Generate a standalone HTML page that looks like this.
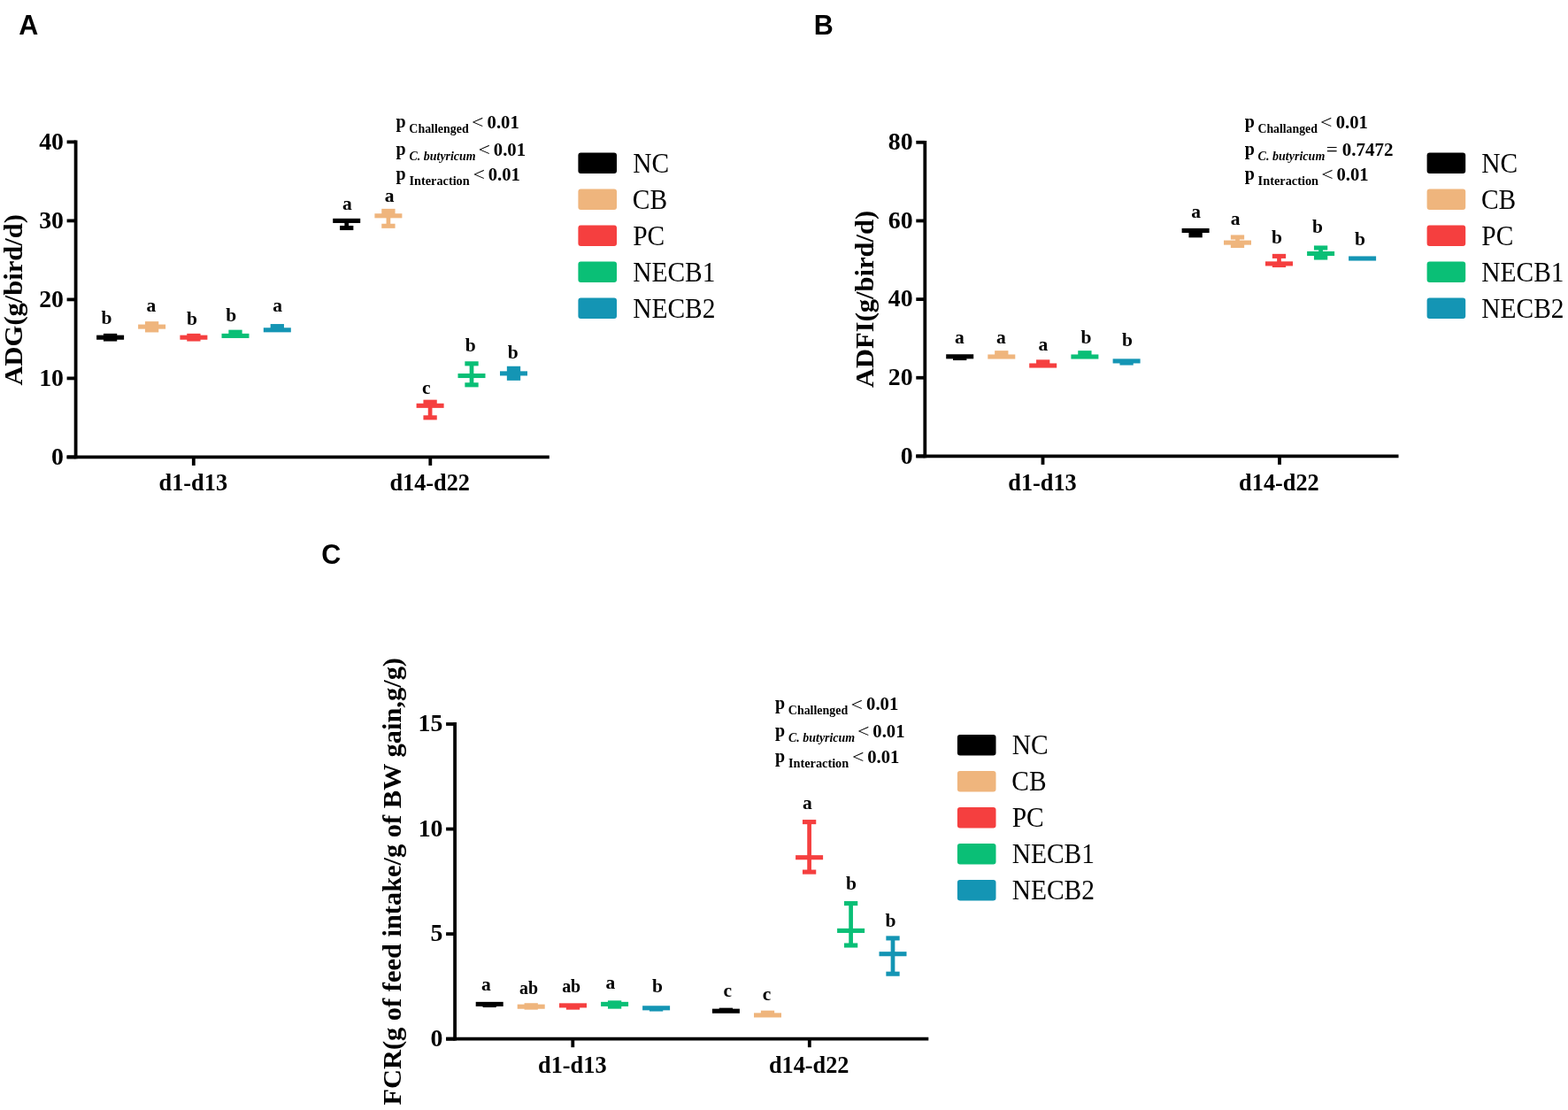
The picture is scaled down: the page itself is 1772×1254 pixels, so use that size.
<!DOCTYPE html>
<html><head><meta charset="utf-8"><title>Figure</title>
<style>html,body{margin:0;padding:0;background:#fff;overflow:hidden;} svg{display:block;}</style>
</head><body>
<svg width="1772" height="1254" viewBox="0 0 1772 1254">
<rect width="1772" height="1254" fill="#fff"/>
<text x="21.14" y="38.8" style="font-family:'Liberation Sans', Arial, sans-serif;font-size:30.5px;font-weight:bold;font-style:normal" fill="#000">A</text>
<text x="919.86" y="38.8" style="font-family:'Liberation Sans', Arial, sans-serif;font-size:30.5px;font-weight:bold;font-style:normal" fill="#000">B</text>
<text x="363.15" y="637.29" style="font-family:'Liberation Sans', Arial, sans-serif;font-size:30.5px;font-weight:bold;font-style:normal" fill="#000">C</text>
<line x1="85.6" y1="158.5" x2="85.6" y2="518.3" stroke="#000" stroke-width="3.8" stroke-linecap="butt"/>
<line x1="75.6" y1="516.4" x2="620.8" y2="516.4" stroke="#000" stroke-width="3.8" stroke-linecap="butt"/>
<line x1="75.6" y1="516.4" x2="85.6" y2="516.4" stroke="#000" stroke-width="3.8" stroke-linecap="butt"/>
<line x1="75.6" y1="427.4" x2="85.6" y2="427.4" stroke="#000" stroke-width="3.8" stroke-linecap="butt"/>
<line x1="75.6" y1="338.4" x2="85.6" y2="338.4" stroke="#000" stroke-width="3.8" stroke-linecap="butt"/>
<line x1="75.6" y1="249.4" x2="85.6" y2="249.4" stroke="#000" stroke-width="3.8" stroke-linecap="butt"/>
<line x1="75.6" y1="160.4" x2="85.6" y2="160.4" stroke="#000" stroke-width="3.8" stroke-linecap="butt"/>
<line x1="218.8" y1="516.4" x2="218.8" y2="525.9" stroke="#000" stroke-width="3.8" stroke-linecap="butt"/>
<line x1="486.3" y1="516.4" x2="486.3" y2="525.9" stroke="#000" stroke-width="3.8" stroke-linecap="butt"/>
<text transform="translate(58.04 524.78) scale(1.0500 1)" style="font-family:'Liberation Serif', 'Times New Roman', serif;font-size:26.5px;font-weight:bold;font-style:normal" fill="#000">0</text>
<text transform="translate(44.13 435.78) scale(1.0500 1)" style="font-family:'Liberation Serif', 'Times New Roman', serif;font-size:26.5px;font-weight:bold;font-style:normal" fill="#000">10</text>
<text transform="translate(44.13 346.78) scale(1.0500 1)" style="font-family:'Liberation Serif', 'Times New Roman', serif;font-size:26.5px;font-weight:bold;font-style:normal" fill="#000">20</text>
<text transform="translate(44.13 257.78) scale(1.0500 1)" style="font-family:'Liberation Serif', 'Times New Roman', serif;font-size:26.5px;font-weight:bold;font-style:normal" fill="#000">30</text>
<text transform="translate(44.13 168.78) scale(1.0500 1)" style="font-family:'Liberation Serif', 'Times New Roman', serif;font-size:26.5px;font-weight:bold;font-style:normal" fill="#000">40</text>
<text x="179.58" y="554" style="font-family:'Liberation Serif', 'Times New Roman', serif;font-size:26.3px;font-weight:bold;font-style:normal" fill="#000">d1-d13</text>
<text x="440.42" y="554" style="font-family:'Liberation Serif', 'Times New Roman', serif;font-size:26.3px;font-weight:bold;font-style:normal" fill="#000">d14-d22</text>
<text transform="translate(24.7 435.51) rotate(-90) scale(1.0191 1)" style="font-family:'Liberation Serif', 'Times New Roman', serif;font-size:30px;font-weight:bold">ADG(g/bird/d)</text>
<rect x="122.25" y="379.4" width="4.7" height="3.6" fill="#000000"/>
<rect x="116.95" y="376.85" width="15.3" height="5.1" fill="#000000"/>
<rect x="116.95" y="380.45" width="15.3" height="5.1" fill="#000000"/>
<rect x="109.1" y="378.65" width="31" height="5.1" fill="#000000"/>
<rect x="169.25" y="365.7" width="4.7" height="7.2" fill="#EFB57D"/>
<rect x="163.95" y="363.15" width="15.3" height="5.95" fill="#EFB57D"/>
<rect x="163.95" y="369.1" width="15.3" height="6.35" fill="#EFB57D"/>
<rect x="156.1" y="366.55" width="31" height="5.1" fill="#EFB57D"/>
<rect x="216.55" y="379.4" width="4.7" height="3.6" fill="#F53F3F"/>
<rect x="211.25" y="376.85" width="15.3" height="5.1" fill="#F53F3F"/>
<rect x="211.25" y="380.45" width="15.3" height="5.1" fill="#F53F3F"/>
<rect x="203.4" y="378.65" width="31" height="5.1" fill="#F53F3F"/>
<rect x="263.65" y="375.2" width="4.7" height="4.2" fill="#0ABF76"/>
<rect x="258.35" y="372.65" width="15.3" height="6.75" fill="#0ABF76"/>
<rect x="250.5" y="376.85" width="31" height="5.1" fill="#0ABF76"/>
<rect x="310.95" y="368.6" width="4.7" height="4.2" fill="#1495B4"/>
<rect x="305.65" y="366.05" width="15.3" height="6.75" fill="#1495B4"/>
<rect x="297.8" y="370.25" width="31" height="5.1" fill="#1495B4"/>
<rect x="389.35" y="249.4" width="4.7" height="8.1" fill="#000000"/>
<rect x="384.05" y="254.95" width="15.3" height="5.1" fill="#000000"/>
<rect x="376.2" y="246.85" width="31" height="5.1" fill="#000000"/>
<rect x="436.55" y="238.4" width="4.7" height="16.9" fill="#EFB57D"/>
<rect x="431.25" y="235.85" width="15.3" height="7.95" fill="#EFB57D"/>
<rect x="431.25" y="252.75" width="15.3" height="5.1" fill="#EFB57D"/>
<rect x="423.4" y="241.25" width="31" height="5.1" fill="#EFB57D"/>
<rect x="483.75" y="454.2" width="4.7" height="17.6" fill="#F53F3F"/>
<rect x="478.45" y="451.65" width="15.3" height="6.65" fill="#F53F3F"/>
<rect x="478.45" y="469.25" width="15.3" height="5.1" fill="#F53F3F"/>
<rect x="470.6" y="455.75" width="31" height="5.1" fill="#F53F3F"/>
<rect x="530.65" y="410.8" width="4.7" height="24" fill="#0ABF76"/>
<rect x="525.35" y="408.25" width="15.3" height="5.1" fill="#0ABF76"/>
<rect x="525.35" y="432.25" width="15.3" height="5.1" fill="#0ABF76"/>
<rect x="517.5" y="421.95" width="31" height="5.1" fill="#0ABF76"/>
<rect x="578.15" y="416.3" width="4.7" height="11" fill="#1495B4"/>
<rect x="572.85" y="413.75" width="15.3" height="8.15" fill="#1495B4"/>
<rect x="572.85" y="421.9" width="15.3" height="7.95" fill="#1495B4"/>
<rect x="565" y="419.35" width="31" height="5.1" fill="#1495B4"/>
<text x="114.51" y="365.7" style="font-family:'Liberation Serif', 'Times New Roman', serif;font-size:21.5px;font-weight:bold;font-style:normal" fill="#000">b</text>
<text x="165.44" y="352.1" style="font-family:'Liberation Serif', 'Times New Roman', serif;font-size:21.5px;font-weight:bold;font-style:normal" fill="#000">a</text>
<text x="210.96" y="366.6" style="font-family:'Liberation Serif', 'Times New Roman', serif;font-size:21.5px;font-weight:bold;font-style:normal" fill="#000">b</text>
<text x="255.21" y="363.4" style="font-family:'Liberation Serif', 'Times New Roman', serif;font-size:21.5px;font-weight:bold;font-style:normal" fill="#000">b</text>
<text x="308.24" y="352.1" style="font-family:'Liberation Serif', 'Times New Roman', serif;font-size:21.5px;font-weight:bold;font-style:normal" fill="#000">a</text>
<text x="386.89" y="236.5" style="font-family:'Liberation Serif', 'Times New Roman', serif;font-size:21.5px;font-weight:bold;font-style:normal" fill="#000">a</text>
<text x="434.79" y="227.7" style="font-family:'Liberation Serif', 'Times New Roman', serif;font-size:21.5px;font-weight:bold;font-style:normal" fill="#000">a</text>
<text x="476.93" y="444.8" style="font-family:'Liberation Serif', 'Times New Roman', serif;font-size:21.5px;font-weight:bold;font-style:normal" fill="#000">c</text>
<text x="525.71" y="397.3" style="font-family:'Liberation Serif', 'Times New Roman', serif;font-size:21.5px;font-weight:bold;font-style:normal" fill="#000">b</text>
<text x="573.66" y="404.6" style="font-family:'Liberation Serif', 'Times New Roman', serif;font-size:21.5px;font-weight:bold;font-style:normal" fill="#000">b</text>
<rect x="653.4" y="172.6" width="43.6" height="23.3" fill="#000000" rx="3"/>
<text transform="translate(715.15 194.6) scale(0.9500 1)" style="font-family:'Liberation Serif', 'Times New Roman', serif;font-size:31px;font-weight:normal;font-style:normal" fill="#000">NC</text>
<rect x="653.4" y="213.6" width="43.6" height="23.3" fill="#EFB57D" rx="3"/>
<text transform="translate(714.79 235.6) scale(0.9500 1)" style="font-family:'Liberation Serif', 'Times New Roman', serif;font-size:31px;font-weight:normal;font-style:normal" fill="#000">CB</text>
<rect x="653.4" y="254.6" width="43.6" height="23.3" fill="#F53F3F" rx="3"/>
<text transform="translate(715.15 276.6) scale(0.9500 1)" style="font-family:'Liberation Serif', 'Times New Roman', serif;font-size:31px;font-weight:normal;font-style:normal" fill="#000">PC</text>
<rect x="653.4" y="295.6" width="43.6" height="23.3" fill="#0ABF76" rx="3"/>
<text transform="translate(715.15 317.6) scale(0.9500 1)" style="font-family:'Liberation Serif', 'Times New Roman', serif;font-size:31px;font-weight:normal;font-style:normal" fill="#000">NECB1</text>
<rect x="653.4" y="336.6" width="43.6" height="23.3" fill="#1495B4" rx="3"/>
<text transform="translate(715.15 358.6) scale(0.9500 1)" style="font-family:'Liberation Serif', 'Times New Roman', serif;font-size:31px;font-weight:normal;font-style:normal" fill="#000">NECB2</text>
<line x1="1045.3" y1="158.9" x2="1045.3" y2="517.3" stroke="#000" stroke-width="3.8" stroke-linecap="butt"/>
<line x1="1035.3" y1="515.4" x2="1580.5" y2="515.4" stroke="#000" stroke-width="3.8" stroke-linecap="butt"/>
<line x1="1035.3" y1="515.4" x2="1045.3" y2="515.4" stroke="#000" stroke-width="3.8" stroke-linecap="butt"/>
<line x1="1035.3" y1="426.75" x2="1045.3" y2="426.75" stroke="#000" stroke-width="3.8" stroke-linecap="butt"/>
<line x1="1035.3" y1="338.1" x2="1045.3" y2="338.1" stroke="#000" stroke-width="3.8" stroke-linecap="butt"/>
<line x1="1035.3" y1="249.45" x2="1045.3" y2="249.45" stroke="#000" stroke-width="3.8" stroke-linecap="butt"/>
<line x1="1035.3" y1="160.8" x2="1045.3" y2="160.8" stroke="#000" stroke-width="3.8" stroke-linecap="butt"/>
<line x1="1178.5" y1="515.4" x2="1178.5" y2="524.9" stroke="#000" stroke-width="3.8" stroke-linecap="butt"/>
<line x1="1446" y1="515.4" x2="1446" y2="524.9" stroke="#000" stroke-width="3.8" stroke-linecap="butt"/>
<text transform="translate(1017.74 523.78) scale(1.0500 1)" style="font-family:'Liberation Serif', 'Times New Roman', serif;font-size:26.5px;font-weight:bold;font-style:normal" fill="#000">0</text>
<text transform="translate(1003.83 435.13) scale(1.0500 1)" style="font-family:'Liberation Serif', 'Times New Roman', serif;font-size:26.5px;font-weight:bold;font-style:normal" fill="#000">20</text>
<text transform="translate(1003.83 346.48) scale(1.0500 1)" style="font-family:'Liberation Serif', 'Times New Roman', serif;font-size:26.5px;font-weight:bold;font-style:normal" fill="#000">40</text>
<text transform="translate(1003.83 257.83) scale(1.0500 1)" style="font-family:'Liberation Serif', 'Times New Roman', serif;font-size:26.5px;font-weight:bold;font-style:normal" fill="#000">60</text>
<text transform="translate(1003.83 169.18) scale(1.0500 1)" style="font-family:'Liberation Serif', 'Times New Roman', serif;font-size:26.5px;font-weight:bold;font-style:normal" fill="#000">80</text>
<text x="1139.28" y="554" style="font-family:'Liberation Serif', 'Times New Roman', serif;font-size:26.3px;font-weight:bold;font-style:normal" fill="#000">d1-d13</text>
<text x="1400.12" y="554" style="font-family:'Liberation Serif', 'Times New Roman', serif;font-size:26.3px;font-weight:bold;font-style:normal" fill="#000">d14-d22</text>
<text transform="translate(986.6 438.01) rotate(-90) scale(1.0181 1)" style="font-family:'Liberation Serif', 'Times New Roman', serif;font-size:30px;font-weight:bold">ADFI(g/bird/d)</text>
<rect x="1082.35" y="402.8" width="4.7" height="1.7" fill="#000000"/>
<rect x="1077.05" y="401.95" width="15.3" height="5.1" fill="#000000"/>
<rect x="1069.2" y="400.25" width="31" height="5.1" fill="#000000"/>
<rect x="1129.45" y="398.7" width="4.7" height="4.3" fill="#EFB57D"/>
<rect x="1124.15" y="396.15" width="15.3" height="6.85" fill="#EFB57D"/>
<rect x="1116.3" y="400.45" width="31" height="5.1" fill="#EFB57D"/>
<rect x="1176.35" y="408.9" width="4.7" height="4.1" fill="#F53F3F"/>
<rect x="1171.05" y="406.35" width="15.3" height="6.65" fill="#F53F3F"/>
<rect x="1163.2" y="410.45" width="31" height="5.1" fill="#F53F3F"/>
<rect x="1223.55" y="398.7" width="4.7" height="4.3" fill="#0ABF76"/>
<rect x="1218.25" y="396.15" width="15.3" height="6.85" fill="#0ABF76"/>
<rect x="1210.4" y="400.45" width="31" height="5.1" fill="#0ABF76"/>
<rect x="1270.75" y="407.9" width="4.7" height="2.1" fill="#1495B4"/>
<rect x="1265.45" y="407.45" width="15.3" height="5.1" fill="#1495B4"/>
<rect x="1257.6" y="405.35" width="31" height="5.1" fill="#1495B4"/>
<rect x="1348.75" y="260.5" width="4.7" height="5.3" fill="#000000"/>
<rect x="1343.45" y="260.5" width="15.3" height="7.85" fill="#000000"/>
<rect x="1335.6" y="257.95" width="31" height="5.1" fill="#000000"/>
<rect x="1396.15" y="268" width="4.7" height="9.5" fill="#EFB57D"/>
<rect x="1390.85" y="265.45" width="15.3" height="5.1" fill="#EFB57D"/>
<rect x="1390.85" y="274.1" width="15.3" height="5.95" fill="#EFB57D"/>
<rect x="1383" y="271.55" width="31" height="5.1" fill="#EFB57D"/>
<rect x="1443.15" y="289.4" width="4.7" height="10.1" fill="#F53F3F"/>
<rect x="1437.85" y="286.85" width="15.3" height="5.1" fill="#F53F3F"/>
<rect x="1437.85" y="296.95" width="15.3" height="5.1" fill="#F53F3F"/>
<rect x="1430" y="295.35" width="31" height="5.1" fill="#F53F3F"/>
<rect x="1490.25" y="280" width="4.7" height="11" fill="#0ABF76"/>
<rect x="1484.95" y="277.45" width="15.3" height="5.1" fill="#0ABF76"/>
<rect x="1484.95" y="286.5" width="15.3" height="7.05" fill="#0ABF76"/>
<rect x="1477.1" y="283.95" width="31" height="5.1" fill="#0ABF76"/>
<rect x="1524.1" y="289.45" width="31" height="5.1" fill="#1495B4"/>
<text x="1078.99" y="387.6" style="font-family:'Liberation Serif', 'Times New Roman', serif;font-size:21.5px;font-weight:bold;font-style:normal" fill="#000">a</text>
<text x="1126.09" y="387.6" style="font-family:'Liberation Serif', 'Times New Roman', serif;font-size:21.5px;font-weight:bold;font-style:normal" fill="#000">a</text>
<text x="1173.44" y="396.4" style="font-family:'Liberation Serif', 'Times New Roman', serif;font-size:21.5px;font-weight:bold;font-style:normal" fill="#000">a</text>
<text x="1221.41" y="387.6" style="font-family:'Liberation Serif', 'Times New Roman', serif;font-size:21.5px;font-weight:bold;font-style:normal" fill="#000">b</text>
<text x="1267.96" y="391" style="font-family:'Liberation Serif', 'Times New Roman', serif;font-size:21.5px;font-weight:bold;font-style:normal" fill="#000">b</text>
<text x="1346.29" y="245.5" style="font-family:'Liberation Serif', 'Times New Roman', serif;font-size:21.5px;font-weight:bold;font-style:normal" fill="#000">a</text>
<text x="1390.79" y="254.3" style="font-family:'Liberation Serif', 'Times New Roman', serif;font-size:21.5px;font-weight:bold;font-style:normal" fill="#000">a</text>
<text x="1437.06" y="275.3" style="font-family:'Liberation Serif', 'Times New Roman', serif;font-size:21.5px;font-weight:bold;font-style:normal" fill="#000">b</text>
<text x="1483.11" y="263.1" style="font-family:'Liberation Serif', 'Times New Roman', serif;font-size:21.5px;font-weight:bold;font-style:normal" fill="#000">b</text>
<text x="1531.01" y="276.7" style="font-family:'Liberation Serif', 'Times New Roman', serif;font-size:21.5px;font-weight:bold;font-style:normal" fill="#000">b</text>
<rect x="1612.6" y="172.6" width="43.6" height="23.3" fill="#000000" rx="3"/>
<text transform="translate(1674.35 194.6) scale(0.9500 1)" style="font-family:'Liberation Serif', 'Times New Roman', serif;font-size:31px;font-weight:normal;font-style:normal" fill="#000">NC</text>
<rect x="1612.6" y="213.6" width="43.6" height="23.3" fill="#EFB57D" rx="3"/>
<text transform="translate(1673.99 235.6) scale(0.9500 1)" style="font-family:'Liberation Serif', 'Times New Roman', serif;font-size:31px;font-weight:normal;font-style:normal" fill="#000">CB</text>
<rect x="1612.6" y="254.6" width="43.6" height="23.3" fill="#F53F3F" rx="3"/>
<text transform="translate(1674.35 276.6) scale(0.9500 1)" style="font-family:'Liberation Serif', 'Times New Roman', serif;font-size:31px;font-weight:normal;font-style:normal" fill="#000">PC</text>
<rect x="1612.6" y="295.6" width="43.6" height="23.3" fill="#0ABF76" rx="3"/>
<text transform="translate(1674.35 317.6) scale(0.9500 1)" style="font-family:'Liberation Serif', 'Times New Roman', serif;font-size:31px;font-weight:normal;font-style:normal" fill="#000">NECB1</text>
<rect x="1612.6" y="336.6" width="43.6" height="23.3" fill="#1495B4" rx="3"/>
<text transform="translate(1674.35 358.6) scale(0.9500 1)" style="font-family:'Liberation Serif', 'Times New Roman', serif;font-size:31px;font-weight:normal;font-style:normal" fill="#000">NECB2</text>
<line x1="514.1" y1="816.1" x2="514.1" y2="1175.6" stroke="#000" stroke-width="3.8" stroke-linecap="butt"/>
<line x1="504.1" y1="1173.7" x2="1049.3" y2="1173.7" stroke="#000" stroke-width="3.8" stroke-linecap="butt"/>
<line x1="504.1" y1="1173.7" x2="514.1" y2="1173.7" stroke="#000" stroke-width="3.8" stroke-linecap="butt"/>
<line x1="504.1" y1="1055.13" x2="514.1" y2="1055.13" stroke="#000" stroke-width="3.8" stroke-linecap="butt"/>
<line x1="504.1" y1="936.57" x2="514.1" y2="936.57" stroke="#000" stroke-width="3.8" stroke-linecap="butt"/>
<line x1="504.1" y1="818" x2="514.1" y2="818" stroke="#000" stroke-width="3.8" stroke-linecap="butt"/>
<line x1="647.3" y1="1173.7" x2="647.3" y2="1183.2" stroke="#000" stroke-width="3.8" stroke-linecap="butt"/>
<line x1="914.8" y1="1173.7" x2="914.8" y2="1183.2" stroke="#000" stroke-width="3.8" stroke-linecap="butt"/>
<text transform="translate(486.54 1182.08) scale(1.0500 1)" style="font-family:'Liberation Serif', 'Times New Roman', serif;font-size:26.5px;font-weight:bold;font-style:normal" fill="#000">0</text>
<text transform="translate(486.52 1063.38) scale(1.0500 1)" style="font-family:'Liberation Serif', 'Times New Roman', serif;font-size:26.5px;font-weight:bold;font-style:normal" fill="#000">5</text>
<text transform="translate(472.63 944.95) scale(1.0500 1)" style="font-family:'Liberation Serif', 'Times New Roman', serif;font-size:26.5px;font-weight:bold;font-style:normal" fill="#000">10</text>
<text transform="translate(472.6 826.31) scale(1.0500 1)" style="font-family:'Liberation Serif', 'Times New Roman', serif;font-size:26.5px;font-weight:bold;font-style:normal" fill="#000">15</text>
<text x="608.08" y="1211.5" style="font-family:'Liberation Serif', 'Times New Roman', serif;font-size:26.3px;font-weight:bold;font-style:normal" fill="#000">d1-d13</text>
<text x="868.92" y="1211.5" style="font-family:'Liberation Serif', 'Times New Roman', serif;font-size:26.3px;font-weight:bold;font-style:normal" fill="#000">d14-d22</text>
<text transform="translate(453.1 1248.62) rotate(-90) scale(1.0146 1)" style="font-family:'Liberation Serif', 'Times New Roman', serif;font-size:30px;font-weight:bold">FCR(g of feed intake/g of BW gain,g/g)</text>
<rect x="550.85" y="1134.4" width="4.7" height="1.1" fill="#000000"/>
<rect x="545.55" y="1132.95" width="15.3" height="5.1" fill="#000000"/>
<rect x="537.7" y="1131.85" width="31" height="5.1" fill="#000000"/>
<rect x="597.85" y="1135.8" width="4.7" height="2.3" fill="#EFB57D"/>
<rect x="592.55" y="1133.25" width="15.3" height="5.1" fill="#EFB57D"/>
<rect x="592.55" y="1135.55" width="15.3" height="5.1" fill="#EFB57D"/>
<rect x="584.7" y="1134.65" width="31" height="5.1" fill="#EFB57D"/>
<rect x="645.15" y="1135.9" width="4.7" height="2.2" fill="#F53F3F"/>
<rect x="639.85" y="1135.55" width="15.3" height="5.1" fill="#F53F3F"/>
<rect x="632" y="1133.35" width="31" height="5.1" fill="#F53F3F"/>
<rect x="692.25" y="1132.9" width="4.7" height="4.2" fill="#0ABF76"/>
<rect x="686.95" y="1130.35" width="15.3" height="5.1" fill="#0ABF76"/>
<rect x="686.95" y="1134.4" width="15.3" height="5.25" fill="#0ABF76"/>
<rect x="679.1" y="1131.85" width="31" height="5.1" fill="#0ABF76"/>
<rect x="739.25" y="1138.8" width="4.7" height="1.2" fill="#1495B4"/>
<rect x="733.95" y="1137.45" width="15.3" height="5.1" fill="#1495B4"/>
<rect x="726.1" y="1136.25" width="31" height="5.1" fill="#1495B4"/>
<rect x="818.05" y="1141.2" width="4.7" height="1" fill="#000000"/>
<rect x="812.75" y="1138.65" width="15.3" height="5.1" fill="#000000"/>
<rect x="804.9" y="1139.65" width="31" height="5.1" fill="#000000"/>
<rect x="865.15" y="1144.2" width="4.7" height="2.7" fill="#EFB57D"/>
<rect x="859.85" y="1141.65" width="15.3" height="5.25" fill="#EFB57D"/>
<rect x="852" y="1144.35" width="31" height="5.1" fill="#EFB57D"/>
<rect x="912.25" y="928.6" width="4.7" height="56.5" fill="#F53F3F"/>
<rect x="906.95" y="926.05" width="15.3" height="5.1" fill="#F53F3F"/>
<rect x="906.95" y="982.55" width="15.3" height="5.1" fill="#F53F3F"/>
<rect x="899.1" y="966.15" width="31" height="5.1" fill="#F53F3F"/>
<rect x="959.25" y="1020.6" width="4.7" height="47.4" fill="#0ABF76"/>
<rect x="953.95" y="1018.05" width="15.3" height="5.1" fill="#0ABF76"/>
<rect x="953.95" y="1065.45" width="15.3" height="5.1" fill="#0ABF76"/>
<rect x="946.1" y="1048.85" width="31" height="5.1" fill="#0ABF76"/>
<rect x="1006.65" y="1059.9" width="4.7" height="40.3" fill="#1495B4"/>
<rect x="1001.35" y="1057.35" width="15.3" height="5.1" fill="#1495B4"/>
<rect x="1001.35" y="1097.65" width="15.3" height="5.1" fill="#1495B4"/>
<rect x="993.5" y="1075.15" width="31" height="5.1" fill="#1495B4"/>
<text x="543.94" y="1118.9" style="font-family:'Liberation Serif', 'Times New Roman', serif;font-size:21.5px;font-weight:bold;font-style:normal" fill="#000">a</text>
<text transform="translate(587.06 1122.6) scale(0.9265 1)" style="font-family:'Liberation Serif', 'Times New Roman', serif;font-size:21.5px;font-weight:bold;font-style:normal" fill="#000">ab</text>
<text transform="translate(635.16 1120.8) scale(0.9265 1)" style="font-family:'Liberation Serif', 'Times New Roman', serif;font-size:21.5px;font-weight:bold;font-style:normal" fill="#000">ab</text>
<text x="684.49" y="1116.9" style="font-family:'Liberation Serif', 'Times New Roman', serif;font-size:21.5px;font-weight:bold;font-style:normal" fill="#000">a</text>
<text x="737.11" y="1120.6" style="font-family:'Liberation Serif', 'Times New Roman', serif;font-size:21.5px;font-weight:bold;font-style:normal" fill="#000">b</text>
<text x="817.38" y="1125.6" style="font-family:'Liberation Serif', 'Times New Roman', serif;font-size:21.5px;font-weight:bold;font-style:normal" fill="#000">c</text>
<text x="861.78" y="1129.6" style="font-family:'Liberation Serif', 'Times New Roman', serif;font-size:21.5px;font-weight:bold;font-style:normal" fill="#000">c</text>
<text x="907.04" y="914" style="font-family:'Liberation Serif', 'Times New Roman', serif;font-size:21.5px;font-weight:bold;font-style:normal" fill="#000">a</text>
<text x="956.11" y="1004.7" style="font-family:'Liberation Serif', 'Times New Roman', serif;font-size:21.5px;font-weight:bold;font-style:normal" fill="#000">b</text>
<text x="1000.41" y="1046.8" style="font-family:'Liberation Serif', 'Times New Roman', serif;font-size:21.5px;font-weight:bold;font-style:normal" fill="#000">b</text>
<rect x="1081.9" y="830.1" width="43.6" height="23.3" fill="#000000" rx="3"/>
<text transform="translate(1143.65 852.1) scale(0.9500 1)" style="font-family:'Liberation Serif', 'Times New Roman', serif;font-size:31px;font-weight:normal;font-style:normal" fill="#000">NC</text>
<rect x="1081.9" y="871.1" width="43.6" height="23.3" fill="#EFB57D" rx="3"/>
<text transform="translate(1143.29 893.1) scale(0.9500 1)" style="font-family:'Liberation Serif', 'Times New Roman', serif;font-size:31px;font-weight:normal;font-style:normal" fill="#000">CB</text>
<rect x="1081.9" y="912.1" width="43.6" height="23.3" fill="#F53F3F" rx="3"/>
<text transform="translate(1143.65 934.1) scale(0.9500 1)" style="font-family:'Liberation Serif', 'Times New Roman', serif;font-size:31px;font-weight:normal;font-style:normal" fill="#000">PC</text>
<rect x="1081.9" y="953.1" width="43.6" height="23.3" fill="#0ABF76" rx="3"/>
<text transform="translate(1143.65 975.1) scale(0.9500 1)" style="font-family:'Liberation Serif', 'Times New Roman', serif;font-size:31px;font-weight:normal;font-style:normal" fill="#000">NECB1</text>
<rect x="1081.9" y="994.1" width="43.6" height="23.3" fill="#1495B4" rx="3"/>
<text transform="translate(1143.65 1016.1) scale(0.9500 1)" style="font-family:'Liberation Serif', 'Times New Roman', serif;font-size:31px;font-weight:normal;font-style:normal" fill="#000">NECB2</text>
<text x="447.54" y="143.7" style="font-family:'Liberation Serif', 'Times New Roman', serif;font-size:20px;font-weight:bold;font-style:normal" fill="#000">p</text>
<text transform="translate(462.32 149.7) scale(0.9621 1)" style="font-family:'Liberation Serif', 'Times New Roman', serif;font-size:14.5px;font-weight:bold;font-style:normal" fill="#000">Challenged</text>
<text transform="translate(533.01 145.05) scale(1.1935 1)" style="font-family:'Liberation Serif', 'Times New Roman', serif;font-size:20px;font-weight:normal;font-style:normal" fill="#000">&lt;</text>
<text transform="translate(550.61 144.7) scale(1.0331 1)" style="font-family:'Liberation Serif', 'Times New Roman', serif;font-size:20px;font-weight:bold;font-style:normal" fill="#000">0.01</text>
<text x="447.54" y="174.5" style="font-family:'Liberation Serif', 'Times New Roman', serif;font-size:20px;font-weight:bold;font-style:normal" fill="#000">p</text>
<text transform="translate(462.53 180.5) scale(0.9615 1)" style="font-family:'Liberation Serif', 'Times New Roman', serif;font-size:14.5px;font-weight:bold;font-style:italic" fill="#000">C. butyricum</text>
<text transform="translate(540.61 175.85) scale(1.1935 1)" style="font-family:'Liberation Serif', 'Times New Roman', serif;font-size:20px;font-weight:normal;font-style:normal" fill="#000">&lt;</text>
<text transform="translate(557.81 175.5) scale(1.0331 1)" style="font-family:'Liberation Serif', 'Times New Roman', serif;font-size:20px;font-weight:bold;font-style:normal" fill="#000">0.01</text>
<text x="447.54" y="203.1" style="font-family:'Liberation Serif', 'Times New Roman', serif;font-size:20px;font-weight:bold;font-style:normal" fill="#000">p</text>
<text transform="translate(462.51 209.1) scale(0.9861 1)" style="font-family:'Liberation Serif', 'Times New Roman', serif;font-size:14.5px;font-weight:bold;font-style:normal" fill="#000">Interaction</text>
<text transform="translate(534.51 204.45) scale(1.1935 1)" style="font-family:'Liberation Serif', 'Times New Roman', serif;font-size:20px;font-weight:normal;font-style:normal" fill="#000">&lt;</text>
<text transform="translate(551.71 204.1) scale(1.0331 1)" style="font-family:'Liberation Serif', 'Times New Roman', serif;font-size:20px;font-weight:bold;font-style:normal" fill="#000">0.01</text>
<text x="1406.64" y="143.7" style="font-family:'Liberation Serif', 'Times New Roman', serif;font-size:20px;font-weight:bold;font-style:normal" fill="#000">p</text>
<text transform="translate(1421.42 149.7) scale(0.9524 1)" style="font-family:'Liberation Serif', 'Times New Roman', serif;font-size:14.5px;font-weight:bold;font-style:normal" fill="#000">Challanged</text>
<text transform="translate(1492.11 145.05) scale(1.1935 1)" style="font-family:'Liberation Serif', 'Times New Roman', serif;font-size:20px;font-weight:normal;font-style:normal" fill="#000">&lt;</text>
<text transform="translate(1509.71 144.7) scale(1.0331 1)" style="font-family:'Liberation Serif', 'Times New Roman', serif;font-size:20px;font-weight:bold;font-style:normal" fill="#000">0.01</text>
<text x="1406.64" y="174.5" style="font-family:'Liberation Serif', 'Times New Roman', serif;font-size:20px;font-weight:bold;font-style:normal" fill="#000">p</text>
<text transform="translate(1421.62 180.5) scale(0.9693 1)" style="font-family:'Liberation Serif', 'Times New Roman', serif;font-size:14.5px;font-weight:bold;font-style:italic" fill="#000">C. butyricum</text>
<text transform="translate(1498.85 176.14) scale(1.1505 1)" style="font-family:'Liberation Serif', 'Times New Roman', serif;font-size:20px;font-weight:normal;font-style:normal" fill="#000">=</text>
<text transform="translate(1516.7 175.5) scale(1.0510 1)" style="font-family:'Liberation Serif', 'Times New Roman', serif;font-size:20px;font-weight:bold;font-style:normal" fill="#000">0.7472</text>
<text x="1406.64" y="203.1" style="font-family:'Liberation Serif', 'Times New Roman', serif;font-size:20px;font-weight:bold;font-style:normal" fill="#000">p</text>
<text transform="translate(1421.61 209.1) scale(0.9890 1)" style="font-family:'Liberation Serif', 'Times New Roman', serif;font-size:14.5px;font-weight:bold;font-style:normal" fill="#000">Interaction</text>
<text transform="translate(1493.21 204.45) scale(1.1935 1)" style="font-family:'Liberation Serif', 'Times New Roman', serif;font-size:20px;font-weight:normal;font-style:normal" fill="#000">&lt;</text>
<text transform="translate(1510.51 204.1) scale(1.0331 1)" style="font-family:'Liberation Serif', 'Times New Roman', serif;font-size:20px;font-weight:bold;font-style:normal" fill="#000">0.01</text>
<text x="876.04" y="801.2" style="font-family:'Liberation Serif', 'Times New Roman', serif;font-size:20px;font-weight:bold;font-style:normal" fill="#000">p</text>
<text transform="translate(890.82 807.2) scale(0.9621 1)" style="font-family:'Liberation Serif', 'Times New Roman', serif;font-size:14.5px;font-weight:bold;font-style:normal" fill="#000">Challenged</text>
<text transform="translate(961.51 802.55) scale(1.1935 1)" style="font-family:'Liberation Serif', 'Times New Roman', serif;font-size:20px;font-weight:normal;font-style:normal" fill="#000">&lt;</text>
<text transform="translate(979.11 802.2) scale(1.0331 1)" style="font-family:'Liberation Serif', 'Times New Roman', serif;font-size:20px;font-weight:bold;font-style:normal" fill="#000">0.01</text>
<text x="876.04" y="832" style="font-family:'Liberation Serif', 'Times New Roman', serif;font-size:20px;font-weight:bold;font-style:normal" fill="#000">p</text>
<text transform="translate(891.03 838) scale(0.9615 1)" style="font-family:'Liberation Serif', 'Times New Roman', serif;font-size:14.5px;font-weight:bold;font-style:italic" fill="#000">C. butyricum</text>
<text transform="translate(969.11 833.35) scale(1.1935 1)" style="font-family:'Liberation Serif', 'Times New Roman', serif;font-size:20px;font-weight:normal;font-style:normal" fill="#000">&lt;</text>
<text transform="translate(986.31 833) scale(1.0331 1)" style="font-family:'Liberation Serif', 'Times New Roman', serif;font-size:20px;font-weight:bold;font-style:normal" fill="#000">0.01</text>
<text x="876.04" y="860.6" style="font-family:'Liberation Serif', 'Times New Roman', serif;font-size:20px;font-weight:bold;font-style:normal" fill="#000">p</text>
<text transform="translate(891.01 866.6) scale(0.9861 1)" style="font-family:'Liberation Serif', 'Times New Roman', serif;font-size:14.5px;font-weight:bold;font-style:normal" fill="#000">Interaction</text>
<text transform="translate(963.01 861.95) scale(1.1935 1)" style="font-family:'Liberation Serif', 'Times New Roman', serif;font-size:20px;font-weight:normal;font-style:normal" fill="#000">&lt;</text>
<text transform="translate(980.21 861.6) scale(1.0331 1)" style="font-family:'Liberation Serif', 'Times New Roman', serif;font-size:20px;font-weight:bold;font-style:normal" fill="#000">0.01</text>
</svg>
</body></html>
